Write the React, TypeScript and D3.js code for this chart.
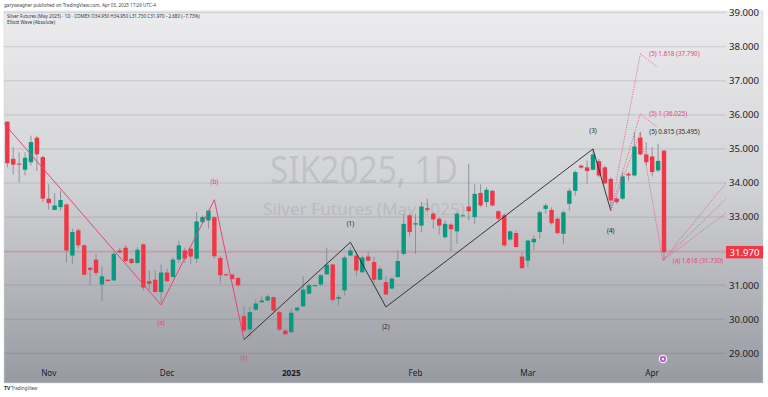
import * as d3 from 'd3';

// daily bars, Oct 23 2024 .. Apr 3 2025
const barOpen = [
  35.80, 34.71, 34.57, 34.39, 34.61, 35.33, 34.76, 33.54, 33.21, 33.29,
  33.37, 31.87, 32.61, 32.17, 31.51, 31.75, 31.02, 31.16, 31.14, 32.02,
  32.10, 31.77, 31.65, 32.20, 31.12, 31.16, 30.80, 31.37, 31.24, 31.75,
  32.02, 32.07, 31.78, 32.85, 32.90, 33.00, 31.80, 31.32, 31.31, 31.21,
  30.09, 29.70, 30.28, 30.50, 30.55, 30.65, 30.21, 29.67, 29.62, 30.26,
  30.38, 30.75, 30.97, 31.02, 31.32, 31.61, 30.60, 30.85, 31.87, 31.87,
  31.38, 31.84, 31.68, 31.16, 31.09, 30.90, 31.24, 31.92, 33.05, 32.78,
  32.75, 33.26, 33.10, 32.95, 32.41, 32.78, 32.58, 33.04, 33.31, 33.00,
  33.71, 33.44, 33.77, 33.17, 33.05, 32.34, 32.53, 31.84, 31.72, 32.26,
  32.56, 33.24, 33.21, 32.95, 32.51, 33.39, 33.77, 34.51, 34.46, 34.39,
  34.64, 34.46, 34.12, 33.54, 33.54, 34.27, 34.22, 35.33, 34.84, 34.78,
  34.37, 34.95,
];
const barHigh = [
  35.82, 35.05, 34.90, 34.90, 35.39, 35.39, 34.80, 33.96, 33.70, 33.78,
  33.40, 32.66, 32.66, 32.20, 31.53, 31.92, 31.55, 31.18, 31.97, 32.10,
  32.17, 31.80, 32.12, 32.22, 31.43, 31.43, 31.61, 31.48, 31.82, 32.30,
  32.10, 32.12, 33.14, 33.05, 33.21, 33.02, 31.87, 31.34, 31.34, 31.24,
  30.38, 30.36, 30.58, 30.67, 30.73, 30.66, 30.24, 29.70, 30.31, 30.36,
  31.26, 31.06, 31.02, 31.32, 32.10, 31.62, 30.70, 31.87, 32.12, 31.97,
  31.87, 31.97, 31.84, 31.55, 31.26, 31.24, 32.02, 33.08, 33.10, 33.10,
  33.44, 33.54, 33.14, 33.00, 32.90, 32.83, 33.14, 33.08, 34.56, 33.96,
  33.96, 33.88, 33.80, 33.19, 33.10, 32.61, 32.61, 31.97, 32.34, 32.46,
  33.19, 33.39, 33.29, 33.00, 33.19, 33.84, 34.37, 34.54, 34.66, 35.00,
  34.71, 34.51, 34.17, 33.58, 34.32, 34.32, 35.49, 35.49, 35.20, 35.05,
  35.15, 34.95,
];
const barLow = [
  34.46, 34.25, 34.02, 34.22, 34.51, 34.35, 33.44, 33.22, 33.20, 33.19,
  31.68, 31.63, 32.07, 31.28, 31.00, 31.29, 30.52, 31.10, 31.12, 31.94,
  31.68, 31.63, 31.63, 30.85, 30.85, 30.78, 30.50, 31.10, 31.22, 31.65,
  31.65, 31.61, 31.65, 32.83, 32.66, 31.78, 31.04, 31.26, 31.17, 30.95,
  29.62, 29.48, 30.26, 30.48, 30.53, 30.20, 29.66, 29.53, 29.60, 30.22,
  30.36, 30.73, 30.95, 30.97, 31.30, 30.50, 30.41, 30.70, 31.85, 31.26,
  31.36, 31.70, 31.06, 31.14, 30.70, 30.88, 31.22, 31.87, 32.43, 31.92,
  32.56, 33.14, 32.66, 32.49, 32.36, 32.00, 32.22, 33.02, 32.90, 32.80,
  33.29, 33.29, 33.31, 32.90, 32.12, 32.31, 32.10, 31.48, 31.53, 32.04,
  32.36, 33.10, 32.78, 32.49, 32.22, 33.19, 33.63, 34.42, 33.98, 34.37,
  34.17, 33.96, 33.29, 33.39, 33.51, 34.07, 34.19, 34.81, 34.51, 34.19,
  34.32, 31.73,
];
const barClose = [
  34.58, 34.54, 34.54, 34.74, 35.20, 34.84, 33.54, 33.41, 33.34, 33.50,
  32.02, 32.56, 32.17, 31.31, 31.45, 31.36, 31.26, 31.12, 31.92, 31.96,
  31.71, 31.65, 32.04, 30.93, 31.04, 30.80, 31.37, 31.12, 31.75, 32.17,
  31.78, 31.84, 32.87, 33.00, 33.19, 31.85, 31.29, 31.29, 31.18, 31.00,
  29.67, 30.21, 30.46, 30.55, 30.67, 30.26, 29.70, 29.56, 30.19, 30.34,
  30.87, 31.00, 31.00, 31.29, 31.60, 30.57, 30.65, 31.81, 32.02, 31.43,
  31.81, 31.72, 31.16, 31.48, 30.73, 31.19, 31.71, 32.80, 32.56, 32.82,
  33.31, 33.21, 32.93, 32.75, 32.80, 32.64, 33.10, 33.05, 33.17, 33.68,
  33.34, 33.80, 33.34, 32.95, 32.17, 32.58, 32.12, 31.50, 32.31, 32.36,
  33.14, 33.34, 32.82, 32.53, 33.14, 33.77, 34.32, 34.45, 34.35, 34.84,
  34.22, 33.99, 33.49, 33.44, 34.19, 34.22, 35.07, 34.84, 34.61, 34.32,
  34.65, 31.97,
];

const monthLabels = ['Nov', 'Dec', '2025', 'Feb', 'Mar', 'Apr'];
const monthBars = [7, 27, 48, 69, 88, 109];

const priceTicks = [29, 30, 31, 32, 33, 34, 35, 36, 37, 38, 39];
const lastPrice = 31.97;

// corrective wave a-b-c (pink) and impulse 1-2-3-4 (black)
const abcBars = [-0.55, 26, 35, 40];
const abcPrices = [35.75, 30.42, 33.51, 29.4];
const abcLabels = ['', '(a)', '(b)', '(c)'];

const impulseBars = [40, 58, 64, 99, 102];
const impulsePrices = [29.4, 32.26, 30.36, 35.0, 33.19];
const impulseLabels = ['', '(1)', '(2)', '(3)', '(4)'];

// wave (5) projections
const fibRatios = ['1.618', '1', '0.815'];
const fibPrices = [37.79, 36.025, 35.495];
const fibBar = 107;

const waveABar = 110.8;
const waveAPrice = 31.73;
const fanEndBar = 121.5;
const fanEndPrices = [34.0, 33.54, 33.12];

const PINK = '#e4457c';
const UP = '#089981';
const DOWN = '#f23645';

export default function App() {
  const W = 768;
  const H = 397;
  const plot = { left: 4, right: 726, top: 11, bottom: 383 };

  const x = d3.scaleLinear().domain([0, barOpen.length - 1]).range([7.3, 664]);
  const y = d3.scaleLinear().domain([29, 39]).range([353.3, 12.7]);
  const bodyW = 4.4;

  const line = d3.line<[number, number]>().x((d) => x(d[0])).y((d) => y(d[1]));
  const fmt = d3.format('.3f');

  const abcPts = abcBars.map((b, i) => [b, abcPrices[i]] as [number, number]);
  const impPts = impulseBars.map((b, i) => [b, impulsePrices[i]] as [number, number]);
  const w4 = impPts[impPts.length - 1];

  const smallFont = '"Noto Sans", sans-serif';

  return (
    <svg width={W} height={H} style={{ position: 'absolute', left: 0, top: 0, background: '#fff' }}
      fontFamily={smallFont}>
      <defs>
        <linearGradient id="bg" x1="0" y1="0" x2="0" y2="1">
          <stop offset="0" stopColor="#ececee" />
          <stop offset="0.45" stopColor="#d3d4d7" />
          <stop offset="1" stopColor="#979aa1" />
        </linearGradient>
        <clipPath id="plotClip">
          <rect x={plot.left} y={plot.top} width={plot.right - plot.left} height={plot.bottom - plot.top} />
        </clipPath>
      </defs>

      <text x={4} y={7} fontSize={4.6} fill="#444">garyswagner published on TradingView.com, Apr 03, 2025 17:26 UTC-4</text>

      <rect x={plot.left} y={plot.top} width={763 - plot.left} height={plot.bottom - plot.top} fill="url(#bg)" stroke="#d6d6d8" strokeWidth={0.6} />

      {/* watermark */}
      <text x={364} y={183} textAnchor="middle" fontSize={38} fill="#6f7078" fillOpacity={0.2}
        textLength={188} lengthAdjust="spacingAndGlyphs">SIK2025, 1D</text>
      <text x={364} y={215} textAnchor="middle" fontSize={16.5} fill="#6f7078" fillOpacity={0.2}
        textLength={202} lengthAdjust="spacingAndGlyphs">Silver Futures (May 2025)</text>

      <text x={7} y={17.6} fontSize={4.6} fill="#333">
        Silver Futures (May 2025) · 1D · COMEX  O34.950 H34.950 L31.730 C31.970 −2.680 (−7.73%)
      </text>
      <text x={7} y={24.4} fontSize={4.6} fill="#333">Elliott Wave (Absolute)</text>

      {/* grid */}
      {priceTicks.map((p) => (
        <line key={p} x1={plot.left} x2={plot.right} y1={y(p)} y2={y(p)} stroke="#5a5c66" strokeOpacity={0.2} strokeWidth={1} />
      ))}
      <line x1={plot.left} x2={plot.right} y1={y(lastPrice)} y2={y(lastPrice)} stroke={DOWN} strokeOpacity={0.3} strokeWidth={0.8} />

      <g clipPath="url(#plotClip)">
        {/* candles */}
        {barOpen.map((o, i) => {
          const c = barClose[i];
          const up = c >= o;
          const top = y(Math.max(o, c));
          const h = Math.max(0.9, y(Math.min(o, c)) - top);
          return (
            <g key={i}>
              <line x1={x(i)} x2={x(i)} y1={y(barHigh[i])} y2={y(barLow[i])} stroke="#80838d" strokeWidth={0.8} />
              <rect x={x(i) - bodyW / 2} y={top} width={bodyW} height={h} fill={up ? UP : DOWN} />
            </g>
          );
        })}

        {/* a-b-c */}
        <path d={line(abcPts) || ''} fill="none" stroke={PINK} strokeWidth={1} />
        {abcPts.map((p, i) => abcLabels[i] && (
          <text key={i} x={x(p[0])} y={y(p[1]) + (i % 2 === 1 && i !== 2 ? 20 : i === 2 ? -16 : 19)}
            textAnchor="middle" fontSize={6.3} fill={PINK}>{abcLabels[i]}</text>
        ))}

        {/* 1-2-3-4 */}
        <path d={line(impPts) || ''} fill="none" stroke="#26272b" strokeWidth={0.9} />
        {impPts.map((p, i) => impulseLabels[i] && (
          <text key={i} x={x(p[0])} y={y(p[1]) + (i % 2 === 1 ? -16 : 22)}
            textAnchor="middle" fontSize={6.3} fill="#26272b">{impulseLabels[i]}</text>
        ))}

        {/* wave 5 projections */}
        {fibPrices.map((fp, i) => (
          <g key={i}>
            <line x1={x(w4[0])} y1={y(w4[1])} x2={x(fibBar)} y2={y(fp)} stroke={PINK} strokeWidth={0.7} strokeDasharray="1.2,1.2" />
            {i < 2 && (
              <line x1={x(fibBar)} y1={y(fp)} x2={x(fibBar + 2.9)} y2={y(fp - 0.39)} stroke={PINK} strokeWidth={0.7} strokeDasharray="1.2,1.2" />
            )}
            <text x={x(fibBar) + 9} y={y(fp) + 2.3} fontSize={6.3} fill={i < 2 ? PINK : '#26272b'}>
              {`(5) ${fibRatios[i]} (${fmt(fp)})`}
            </text>
          </g>
        ))}
        <line x1={x(fibBar)} y1={y(fibPrices[2])} x2={x(waveABar)} y2={y(waveAPrice)} stroke={PINK} strokeWidth={0.7} strokeDasharray="1.2,1.2" />

        {/* fan from (a) */}
        {fanEndPrices.map((fp, i) => (
          <line key={i} x1={x(waveABar)} y1={y(waveAPrice)} x2={x(fanEndBar)} y2={y(fp)} stroke={PINK} strokeWidth={0.7} strokeDasharray="1.2,1.2" />
        ))}
        <text x={x(waveABar) + 10} y={y(waveAPrice) + 3} fontSize={6.3} fill={PINK}>
          {`(a) 1.616 (${fmt(waveAPrice)})`}
        </text>
      </g>

      {/* price axis */}
      {priceTicks.filter((p) => Math.abs(p - lastPrice) > 0.5).map((p) => (
        <text key={p} x={759} y={y(p) + 3.4} textAnchor="end" fontSize={9.6} fill="#1e2028">{fmt(p)}</text>
      ))}
      <rect x={726} y={y(lastPrice) - 6.2} width={37} height={12.4} fill={DOWN} />
      <text x={759.5} y={y(lastPrice) + 3.4} textAnchor="end" fontSize={9.6} fill="#fff">{fmt(lastPrice)}</text>

      {/* time axis */}
      {monthLabels.map((m, i) => (
        <text key={m} x={x(monthBars[i])} y={376} textAnchor="middle" fontSize={8.2}
          fontWeight={m === '2025' ? 700 : 400} fill="#1e2028">{m}</text>
      ))}

      {/* event marker */}
      <circle cx={663} cy={359} r={4.3} fill="#fff" />
      <circle cx={663} cy={359} r={3.2} fill="#c05dd6" />
      <circle cx={663} cy={359} r={1.2} fill="#fff" />

      {/* footer */}
      <text x={4} y={390} fontSize={5} fontWeight={700} fill="#222">TV</text>
      <text x={11} y={390} fontSize={4.6} fill="#444">TradingView</text>
    </svg>
  );
}
